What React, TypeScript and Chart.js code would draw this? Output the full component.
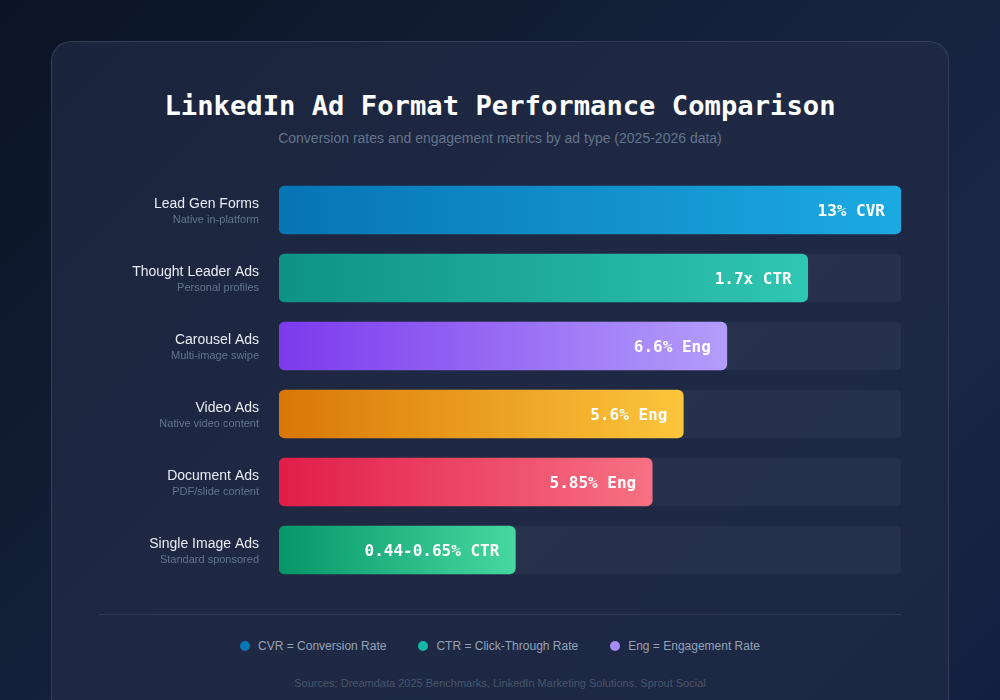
import React, { useEffect, useRef } from "react";
import { Chart, registerables } from "chart.js";

Chart.register(...registerables);

const categories = [
  "Lead Gen Forms",
  "Thought Leader Ads",
  "Carousel Ads",
  "Video Ads",
  "Document Ads",
  "Single Image Ads",
];
const subLabels = [
  "Native in-platform",
  "Personal profiles",
  "Multi-image swipe",
  "Native video content",
  "PDF/slide content",
  "Standard sponsored",
];
const barValues = [100, 85, 72, 65, 60, 38];
const trackValues = [100, 100, 100, 100, 100, 100];
const valueLabels = [
  "13% CVR",
  "1.7x CTR",
  "6.6% Eng",
  "5.6% Eng",
  "5.85% Eng",
  "0.44-0.65% CTR",
];
const gradientStart = ["#0774b4", "#0e9286", "#7c3aed", "#d97706", "#e11d48", "#059669"];
const gradientEnd = ["#1caae2", "#2fc6b2", "#b39dfb", "#fcc53c", "#f87183", "#47d8a0"];

const legendItems = [
  { color: "#0a77b5", text: "CVR = Conversion Rate" },
  { color: "#14b8a6", text: "CTR = Click-Through Rate" },
  { color: "#a78bfa", text: "Eng = Engagement Rate" },
];

const SANS = '"Liberation Sans", Arial, Helvetica, sans-serif';
const MONO = '"DejaVu Sans Mono", monospace';

const labelPlugin = {
  id: "rowLabels",
  afterDatasetsDraw(chart: any) {
    const { ctx } = chart;
    const y = chart.scales.y;
    const x = chart.scales.x;
    ctx.save();
    categories.forEach((cat, i) => {
      const cy = y.getPixelForValue(i);
      const lx = chart.chartArea.left - 20;
      ctx.textAlign = "right";
      ctx.textBaseline = "middle";
      ctx.fillStyle = "#e8edf5";
      ctx.font = `14px ${SANS}`;
      ctx.fillText(cat, lx, cy - 6);
      ctx.fillStyle = "#64748b";
      ctx.font = `11px ${SANS}`;
      ctx.fillText(subLabels[i], lx, cy + 10);
      // value label
      const ex = x.getPixelForValue(barValues[i]);
      ctx.fillStyle = "#ffffff";
      ctx.font = `bold 16px ${MONO}`;
      ctx.fillText(valueLabels[i], ex - 16, cy + 2);
    });
    ctx.restore();
  },
};

function ChartView() {
  const ref = useRef<HTMLCanvasElement>(null);
  useEffect(() => {
    if (!ref.current) return;
    const chart = new Chart(ref.current, {
      type: "bar",
      data: {
        labels: categories,
        datasets: [
          {
            label: "value",
            data: barValues,
            order: 0,
            grouped: false,
            barThickness: 48,
            borderRadius: 6,
            borderSkipped: false,
            backgroundColor: (c: any) => {
              const chart = c.chart;
              const i = c.dataIndex;
              if (!chart.chartArea || i === undefined) return gradientStart[i || 0];
              const xs = chart.scales.x;
              const x0 = xs.getPixelForValue(0);
              const x1 = xs.getPixelForValue(barValues[i]);
              const g = chart.ctx.createLinearGradient(x0, 0, x1, 0);
              g.addColorStop(0, gradientStart[i]);
              g.addColorStop(1, gradientEnd[i]);
              return g;
            },
          } as any,
          {
            label: "track",
            data: trackValues,
            order: 1,
            grouped: false,
            barThickness: 48,
            borderRadius: 6,
            borderSkipped: false,
            backgroundColor: "rgba(255,255,255,0.045)",
          } as any,
        ],
      },
      options: {
        indexAxis: "y",
        animation: false,
        responsive: false,
        maintainAspectRatio: false,
        layout: { padding: { left: 180, right: 0, top: 0, bottom: 0 } },
        plugins: { legend: { display: false }, tooltip: { enabled: false } },
        scales: {
          x: { display: false, min: 0, max: 100 },
          y: { display: false },
        },
      },
      plugins: [labelPlugin],
    });
    return () => chart.destroy();
  }, []);
  return (
    <canvas
      ref={ref}
      width={802}
      height={408}
      style={{ position: "absolute", left: 99, top: 176, width: 802, height: 408 }}
    />
  );
}

export default function App() {
  return (
    <div
      style={{
        position: "fixed",
        inset: 0,
        width: 1000,
        height: 700,
        overflow: "hidden",
        background: "linear-gradient(135deg, #0a1424 0%, #15213b 45%, #1a2746 75%, #121f40 100%)",
        fontFamily: SANS,
      }}
    >
      <div
        style={{
          position: "absolute",
          left: 51,
          top: 41,
          width: 898,
          height: 720,
          boxSizing: "border-box",
          borderRadius: 20,
          border: "1px solid rgba(255,255,255,0.1)",
          background: "linear-gradient(135deg, #1a243c 0%, #1f2944 50%, #1c2744 100%)",
        }}
      />
      <div
        style={{
          position: "absolute",
          left: 0,
          width: 1000,
          top: 87,
          textAlign: "center",
          fontFamily: MONO,
          fontWeight: "bold",
          fontSize: 27.2,
          lineHeight: "38px",
          color: "#ffffff",
        }}
      >
        LinkedIn Ad Format Performance Comparison
      </div>
      <div
        style={{
          position: "absolute",
          left: 0,
          width: 1000,
          top: 129,
          textAlign: "center",
          fontSize: 14,
          lineHeight: "18px",
          color: "#64748b",
        }}
      >
        Conversion rates and engagement metrics by ad type (2025-2026 data)
      </div>
      <ChartView />
      <div
        style={{
          position: "absolute",
          left: 99,
          top: 614,
          width: 802,
          height: 1,
          background: "rgba(255,255,255,0.09)",
        }}
      />
      <div
        style={{
          position: "absolute",
          left: 0,
          width: 1000,
          top: 637,
          display: "flex",
          justifyContent: "center",
          gap: 32,
          fontSize: 12,
          lineHeight: "18px",
          color: "#94a3b8",
        }}
      >
        {legendItems.map((it) => (
          <div key={it.text} style={{ display: "flex", alignItems: "center" }}>
            <span
              style={{
                display: "inline-block",
                width: 10,
                height: 10,
                borderRadius: 5,
                background: it.color,
                marginRight: 8,
              }}
            />
            {it.text}
          </div>
        ))}
      </div>
      <div
        style={{
          position: "absolute",
          left: 0,
          width: 1000,
          top: 676,
          textAlign: "center",
          fontSize: 11,
          lineHeight: "14px",
          color: "#475569",
        }}
      >
        Sources: Dreamdata 2025 Benchmarks, LinkedIn Marketing Solutions, Sprout Social
      </div>
    </div>
  );
}
